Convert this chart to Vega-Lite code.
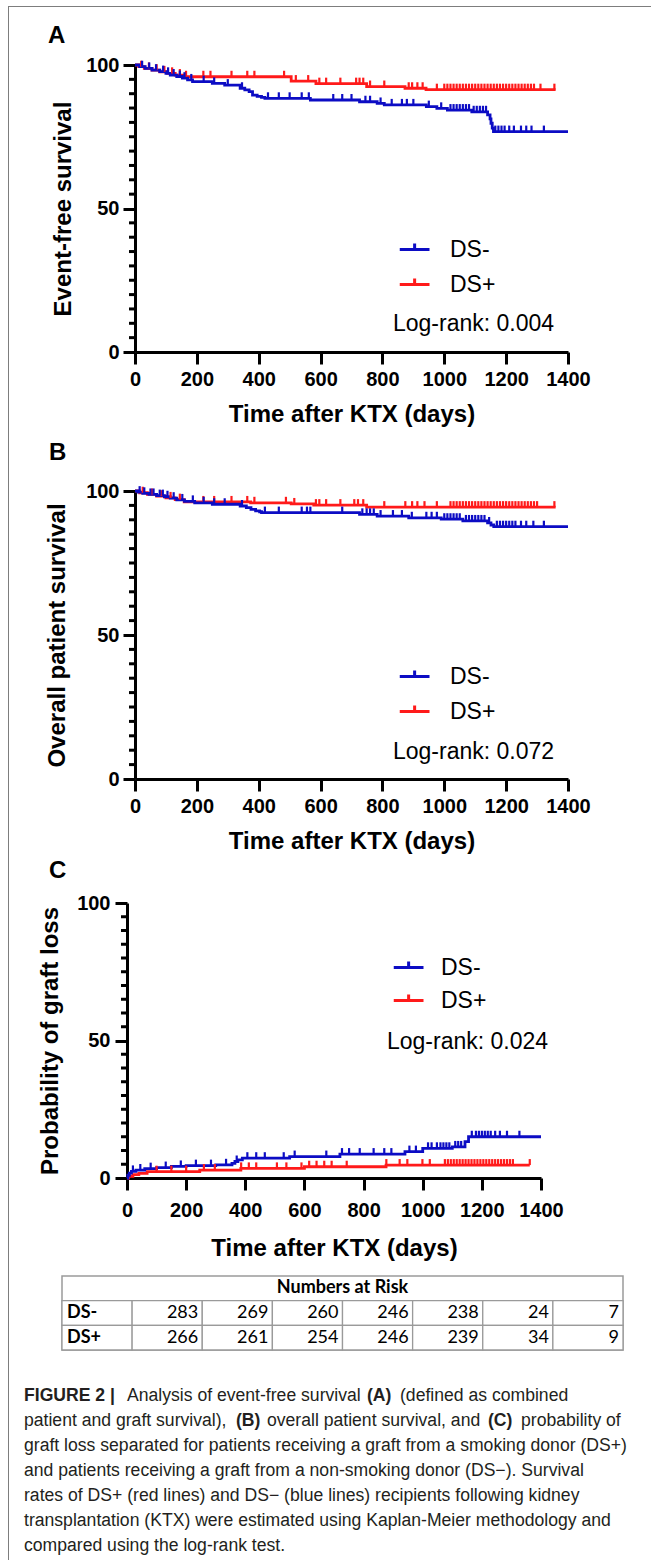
{
"$schema": "https://vega.github.io/schema/vega-lite/v6.json",
"background": "white",
"padding": {"left": 8, "top": 6, "right": 0, "bottom": 0},
"config": {
  "view": {"stroke": null},
  "font": "Liberation Sans",
  "axis": {"domainColor": "black", "domainWidth": 3, "tickColor": "black", "tickWidth": 3, "labelColor": "black", "labelFont": "Liberation Sans", "labelFontSize": 20, "labelFontWeight": "bold", "titleColor": "black", "titleFont": "Liberation Sans", "titleFontSize": 24, "titleFontWeight": "bold", "grid": false, "labelOverlap": false, "labelFlush": false}
},
"datasets": {
"minor": [{"m":5},{"m":10},{"m":15},{"m":20},{"m":25},{"m":30},{"m":35},{"m":40},{"m":45},{"m":55},{"m":60},{"m":65},{"m":70},{"m":75},{"m":80},{"m":85},{"m":90},{"m":95}],
"A": [
{"g":"DS+","k":"s","t":0,"v":100},{"g":"DS+","k":"s","t":12,"v":99.4},{"g":"DS+","k":"s","t":30,"v":98.8},{"g":"DS+","k":"s","t":55,"v":98.2},{"g":"DS+","k":"s","t":80,"v":97.6},{"g":"DS+","k":"s","t":105,"v":97.1},{"g":"DS+","k":"s","t":130,"v":96.5},{"g":"DS+","k":"s","t":155,"v":95.9},{"g":"DS+","k":"s","t":505,"v":94.4},{"g":"DS+","k":"s","t":585,"v":93.5},{"g":"DS+","k":"s","t":749,"v":92.5},{"g":"DS+","k":"s","t":873,"v":91.9},{"g":"DS+","k":"s","t":941,"v":91.4},{"g":"DS+","k":"s","t":1360,"v":91.4},
{"g":"DS+","k":"c","t":20,"v":99.4},{"g":"DS+","k":"c","t":45,"v":98.8},{"g":"DS+","k":"c","t":70,"v":98.2},{"g":"DS+","k":"c","t":95,"v":97.6},{"g":"DS+","k":"c","t":120,"v":97.1},{"g":"DS+","k":"c","t":145,"v":96.5},{"g":"DS+","k":"c","t":165,"v":95.9},{"g":"DS+","k":"c","t":221,"v":95.9},{"g":"DS+","k":"c","t":244,"v":95.9},{"g":"DS+","k":"c","t":312,"v":95.9},{"g":"DS+","k":"c","t":363,"v":95.9},{"g":"DS+","k":"c","t":386,"v":95.9},{"g":"DS+","k":"c","t":482,"v":95.9},{"g":"DS+","k":"c","t":520,"v":94.4},{"g":"DS+","k":"c","t":560,"v":94.4},{"g":"DS+","k":"c","t":596,"v":93.5},{"g":"DS+","k":"c","t":618,"v":93.5},{"g":"DS+","k":"c","t":664,"v":93.5},{"g":"DS+","k":"c","t":715,"v":93.5},{"g":"DS+","k":"c","t":726,"v":93.5},{"g":"DS+","k":"c","t":738,"v":93.5},{"g":"DS+","k":"c","t":760,"v":92.5},{"g":"DS+","k":"c","t":806,"v":92.5},{"g":"DS+","k":"c","t":885,"v":91.9},{"g":"DS+","k":"c","t":896,"v":91.9},{"g":"DS+","k":"c","t":913,"v":91.9},{"g":"DS+","k":"c","t":930,"v":91.9},{"g":"DS+","k":"c","t":976,"v":91.4},
{"g":"DS+","k":"c","t":1000,"v":91.4},{"g":"DS+","k":"c","t":1010,"v":91.4},{"g":"DS+","k":"c","t":1020,"v":91.4},{"g":"DS+","k":"c","t":1030,"v":91.4},{"g":"DS+","k":"c","t":1040,"v":91.4},{"g":"DS+","k":"c","t":1050,"v":91.4},{"g":"DS+","k":"c","t":1060,"v":91.4},{"g":"DS+","k":"c","t":1070,"v":91.4},{"g":"DS+","k":"c","t":1080,"v":91.4},{"g":"DS+","k":"c","t":1090,"v":91.4},{"g":"DS+","k":"c","t":1100,"v":91.4},{"g":"DS+","k":"c","t":1110,"v":91.4},{"g":"DS+","k":"c","t":1120,"v":91.4},{"g":"DS+","k":"c","t":1130,"v":91.4},{"g":"DS+","k":"c","t":1140,"v":91.4},{"g":"DS+","k":"c","t":1150,"v":91.4},{"g":"DS+","k":"c","t":1160,"v":91.4},{"g":"DS+","k":"c","t":1170,"v":91.4},{"g":"DS+","k":"c","t":1180,"v":91.4},{"g":"DS+","k":"c","t":1190,"v":91.4},{"g":"DS+","k":"c","t":1200,"v":91.4},{"g":"DS+","k":"c","t":1210,"v":91.4},{"g":"DS+","k":"c","t":1220,"v":91.4},{"g":"DS+","k":"c","t":1230,"v":91.4},{"g":"DS+","k":"c","t":1240,"v":91.4},{"g":"DS+","k":"c","t":1250,"v":91.4},{"g":"DS+","k":"c","t":1260,"v":91.4},{"g":"DS+","k":"c","t":1270,"v":91.4},{"g":"DS+","k":"c","t":1280,"v":91.4},{"g":"DS+","k":"c","t":1290,"v":91.4},{"g":"DS+","k":"c","t":1311,"v":91.4},{"g":"DS+","k":"c","t":1356,"v":91.4},
{"g":"DS-","k":"s","t":0,"v":100},{"g":"DS-","k":"s","t":15,"v":99.4},{"g":"DS-","k":"s","t":33,"v":98.8},{"g":"DS-","k":"s","t":55,"v":98.2},{"g":"DS-","k":"s","t":80,"v":97.7},{"g":"DS-","k":"s","t":100,"v":97.1},{"g":"DS-","k":"s","t":114,"v":96.5},{"g":"DS-","k":"s","t":135,"v":96.0},{"g":"DS-","k":"s","t":153,"v":95.4},{"g":"DS-","k":"s","t":170,"v":94.8},{"g":"DS-","k":"s","t":186,"v":94.2},{"g":"DS-","k":"s","t":250,"v":93.6},{"g":"DS-","k":"s","t":290,"v":93.0},{"g":"DS-","k":"s","t":340,"v":91.9},{"g":"DS-","k":"s","t":355,"v":91.3},{"g":"DS-","k":"s","t":369,"v":90.7},{"g":"DS-","k":"s","t":380,"v":89.5},{"g":"DS-","k":"s","t":395,"v":89.1},{"g":"DS-","k":"s","t":409,"v":88.7},{"g":"DS-","k":"s","t":420,"v":88.4},{"g":"DS-","k":"s","t":567,"v":87.8},{"g":"DS-","k":"s","t":726,"v":87.2},{"g":"DS-","k":"s","t":783,"v":86.6},{"g":"DS-","k":"s","t":806,"v":86.1},{"g":"DS-","k":"s","t":942,"v":85.5},{"g":"DS-","k":"s","t":976,"v":84.9},{"g":"DS-","k":"s","t":1010,"v":84.3},{"g":"DS-","k":"s","t":1089,"v":83.7},{"g":"DS-","k":"s","t":1140,"v":82.6},{"g":"DS-","k":"s","t":1148,"v":81.2},{"g":"DS-","k":"s","t":1151,"v":79.7},{"g":"DS-","k":"s","t":1155,"v":78.0},{"g":"DS-","k":"s","t":1159,"v":76.8},{"g":"DS-","k":"s","t":1400,"v":76.8},
{"g":"DS-","k":"c","t":23,"v":99.4},{"g":"DS-","k":"c","t":46,"v":98.8},{"g":"DS-","k":"c","t":68,"v":98.2},{"g":"DS-","k":"c","t":91,"v":97.7},{"g":"DS-","k":"c","t":107,"v":97.1},{"g":"DS-","k":"c","t":125,"v":96.5},{"g":"DS-","k":"c","t":145,"v":96.0},{"g":"DS-","k":"c","t":160,"v":95.4},{"g":"DS-","k":"c","t":182,"v":94.8},{"g":"DS-","k":"c","t":222,"v":94.2},{"g":"DS-","k":"c","t":256,"v":93.6},{"g":"DS-","k":"c","t":300,"v":93.0},{"g":"DS-","k":"c","t":346,"v":91.9},{"g":"DS-","k":"c","t":430,"v":88.4},{"g":"DS-","k":"c","t":465,"v":88.4},{"g":"DS-","k":"c","t":500,"v":88.4},{"g":"DS-","k":"c","t":539,"v":88.4},{"g":"DS-","k":"c","t":562,"v":88.4},{"g":"DS-","k":"c","t":641,"v":87.8},{"g":"DS-","k":"c","t":670,"v":87.8},{"g":"DS-","k":"c","t":700,"v":87.8},{"g":"DS-","k":"c","t":745,"v":87.2},{"g":"DS-","k":"c","t":760,"v":87.2},{"g":"DS-","k":"c","t":794,"v":86.6},{"g":"DS-","k":"c","t":830,"v":86.1},{"g":"DS-","k":"c","t":863,"v":86.1},{"g":"DS-","k":"c","t":879,"v":86.1},{"g":"DS-","k":"c","t":900,"v":86.1},{"g":"DS-","k":"c","t":950,"v":85.5},{"g":"DS-","k":"c","t":990,"v":84.9},{"g":"DS-","k":"c","t":1020,"v":84.3},{"g":"DS-","k":"c","t":1030,"v":84.3},{"g":"DS-","k":"c","t":1040,"v":84.3},{"g":"DS-","k":"c","t":1050,"v":84.3},{"g":"DS-","k":"c","t":1060,"v":84.3},{"g":"DS-","k":"c","t":1070,"v":84.3},{"g":"DS-","k":"c","t":1080,"v":84.3},{"g":"DS-","k":"c","t":1095,"v":83.7},{"g":"DS-","k":"c","t":1105,"v":83.7},{"g":"DS-","k":"c","t":1115,"v":83.7},{"g":"DS-","k":"c","t":1125,"v":83.7},{"g":"DS-","k":"c","t":1135,"v":83.7},{"g":"DS-","k":"c","t":1165,"v":76.8},{"g":"DS-","k":"c","t":1175,"v":76.8},{"g":"DS-","k":"c","t":1185,"v":76.8},{"g":"DS-","k":"c","t":1195,"v":76.8},{"g":"DS-","k":"c","t":1210,"v":76.8},{"g":"DS-","k":"c","t":1225,"v":76.8},{"g":"DS-","k":"c","t":1248,"v":76.8},{"g":"DS-","k":"c","t":1265,"v":76.8},{"g":"DS-","k":"c","t":1282,"v":76.8},{"g":"DS-","k":"c","t":1322,"v":76.8}
],
"B": [
{"g":"DS+","k":"s","t":0,"v":100},{"g":"DS+","k":"s","t":15,"v":99.4},{"g":"DS+","k":"s","t":40,"v":98.8},{"g":"DS+","k":"s","t":70,"v":98.2},{"g":"DS+","k":"s","t":100,"v":97.6},{"g":"DS+","k":"s","t":130,"v":97.0},{"g":"DS+","k":"s","t":159,"v":96.2},{"g":"DS+","k":"s","t":374,"v":95.9},{"g":"DS+","k":"s","t":505,"v":95.5},{"g":"DS+","k":"s","t":578,"v":95.1},{"g":"DS+","k":"s","t":749,"v":94.4},{"g":"DS+","k":"s","t":1360,"v":94.4},
{"g":"DS+","k":"c","t":25,"v":99.4},{"g":"DS+","k":"c","t":55,"v":98.8},{"g":"DS+","k":"c","t":85,"v":98.2},{"g":"DS+","k":"c","t":115,"v":97.6},{"g":"DS+","k":"c","t":145,"v":97.0},{"g":"DS+","k":"c","t":221,"v":96.2},{"g":"DS+","k":"c","t":256,"v":96.2},{"g":"DS+","k":"c","t":312,"v":96.2},{"g":"DS+","k":"c","t":363,"v":96.2},{"g":"DS+","k":"c","t":386,"v":95.9},{"g":"DS+","k":"c","t":488,"v":95.9},{"g":"DS+","k":"c","t":515,"v":95.5},{"g":"DS+","k":"c","t":585,"v":95.1},{"g":"DS+","k":"c","t":596,"v":95.1},{"g":"DS+","k":"c","t":618,"v":95.1},{"g":"DS+","k":"c","t":664,"v":95.1},{"g":"DS+","k":"c","t":709,"v":95.1},{"g":"DS+","k":"c","t":721,"v":95.1},{"g":"DS+","k":"c","t":738,"v":95.1},{"g":"DS+","k":"c","t":806,"v":94.4},{"g":"DS+","k":"c","t":874,"v":94.4},{"g":"DS+","k":"c","t":896,"v":94.4},{"g":"DS+","k":"c","t":913,"v":94.4},{"g":"DS+","k":"c","t":936,"v":94.4},{"g":"DS+","k":"c","t":976,"v":94.4},
{"g":"DS+","k":"c","t":1020,"v":94.4},{"g":"DS+","k":"c","t":1030,"v":94.4},{"g":"DS+","k":"c","t":1040,"v":94.4},{"g":"DS+","k":"c","t":1050,"v":94.4},{"g":"DS+","k":"c","t":1060,"v":94.4},{"g":"DS+","k":"c","t":1070,"v":94.4},{"g":"DS+","k":"c","t":1080,"v":94.4},{"g":"DS+","k":"c","t":1090,"v":94.4},{"g":"DS+","k":"c","t":1100,"v":94.4},{"g":"DS+","k":"c","t":1110,"v":94.4},{"g":"DS+","k":"c","t":1120,"v":94.4},{"g":"DS+","k":"c","t":1130,"v":94.4},{"g":"DS+","k":"c","t":1140,"v":94.4},{"g":"DS+","k":"c","t":1150,"v":94.4},{"g":"DS+","k":"c","t":1160,"v":94.4},{"g":"DS+","k":"c","t":1170,"v":94.4},{"g":"DS+","k":"c","t":1180,"v":94.4},{"g":"DS+","k":"c","t":1190,"v":94.4},{"g":"DS+","k":"c","t":1200,"v":94.4},{"g":"DS+","k":"c","t":1210,"v":94.4},{"g":"DS+","k":"c","t":1220,"v":94.4},{"g":"DS+","k":"c","t":1230,"v":94.4},{"g":"DS+","k":"c","t":1240,"v":94.4},{"g":"DS+","k":"c","t":1250,"v":94.4},{"g":"DS+","k":"c","t":1260,"v":94.4},{"g":"DS+","k":"c","t":1270,"v":94.4},{"g":"DS+","k":"c","t":1280,"v":94.4},{"g":"DS+","k":"c","t":1290,"v":94.4},{"g":"DS+","k":"c","t":1300,"v":94.4},{"g":"DS+","k":"c","t":1356,"v":94.4},
{"g":"DS-","k":"s","t":0,"v":100},{"g":"DS-","k":"s","t":10,"v":99.6},{"g":"DS-","k":"s","t":25,"v":99.2},{"g":"DS-","k":"s","t":45,"v":98.8},{"g":"DS-","k":"s","t":70,"v":98.4},{"g":"DS-","k":"s","t":95,"v":98.0},{"g":"DS-","k":"s","t":114,"v":97.5},{"g":"DS-","k":"s","t":135,"v":96.9},{"g":"DS-","k":"s","t":160,"v":96.4},{"g":"DS-","k":"s","t":193,"v":95.9},{"g":"DS-","k":"s","t":250,"v":95.4},{"g":"DS-","k":"s","t":340,"v":94.8},{"g":"DS-","k":"s","t":360,"v":94.2},{"g":"DS-","k":"s","t":375,"v":93.6},{"g":"DS-","k":"s","t":390,"v":93.1},{"g":"DS-","k":"s","t":403,"v":92.8},{"g":"DS-","k":"s","t":409,"v":92.5},{"g":"DS-","k":"s","t":726,"v":91.9},{"g":"DS-","k":"s","t":783,"v":91.3},{"g":"DS-","k":"s","t":885,"v":90.7},{"g":"DS-","k":"s","t":990,"v":90.2},{"g":"DS-","k":"s","t":1060,"v":89.6},{"g":"DS-","k":"s","t":1140,"v":88.9},{"g":"DS-","k":"s","t":1151,"v":88.2},{"g":"DS-","k":"s","t":1160,"v":87.6},{"g":"DS-","k":"s","t":1400,"v":87.6},
{"g":"DS-","k":"c","t":15,"v":99.6},{"g":"DS-","k":"c","t":30,"v":99.2},{"g":"DS-","k":"c","t":50,"v":98.8},{"g":"DS-","k":"c","t":60,"v":98.8},{"g":"DS-","k":"c","t":80,"v":98.4},{"g":"DS-","k":"c","t":90,"v":98.4},{"g":"DS-","k":"c","t":105,"v":98.0},{"g":"DS-","k":"c","t":125,"v":97.5},{"g":"DS-","k":"c","t":153,"v":96.9},{"g":"DS-","k":"c","t":187,"v":96.4},{"g":"DS-","k":"c","t":222,"v":95.9},{"g":"DS-","k":"c","t":256,"v":95.4},{"g":"DS-","k":"c","t":290,"v":95.4},{"g":"DS-","k":"c","t":346,"v":94.8},{"g":"DS-","k":"c","t":420,"v":92.5},{"g":"DS-","k":"c","t":465,"v":92.5},{"g":"DS-","k":"c","t":539,"v":92.5},{"g":"DS-","k":"c","t":556,"v":92.5},{"g":"DS-","k":"c","t":567,"v":92.5},{"g":"DS-","k":"c","t":670,"v":92.5},{"g":"DS-","k":"c","t":735,"v":91.9},{"g":"DS-","k":"c","t":749,"v":91.9},{"g":"DS-","k":"c","t":760,"v":91.9},{"g":"DS-","k":"c","t":772,"v":91.9},{"g":"DS-","k":"c","t":794,"v":91.3},{"g":"DS-","k":"c","t":834,"v":91.3},{"g":"DS-","k":"c","t":863,"v":91.3},{"g":"DS-","k":"c","t":895,"v":90.7},{"g":"DS-","k":"c","t":942,"v":90.7},{"g":"DS-","k":"c","t":959,"v":90.7},{"g":"DS-","k":"c","t":976,"v":90.7},{"g":"DS-","k":"c","t":1000,"v":90.2},{"g":"DS-","k":"c","t":1010,"v":90.2},{"g":"DS-","k":"c","t":1020,"v":90.2},{"g":"DS-","k":"c","t":1030,"v":90.2},{"g":"DS-","k":"c","t":1040,"v":90.2},{"g":"DS-","k":"c","t":1050,"v":90.2},{"g":"DS-","k":"c","t":1070,"v":89.6},{"g":"DS-","k":"c","t":1080,"v":89.6},{"g":"DS-","k":"c","t":1090,"v":89.6},{"g":"DS-","k":"c","t":1100,"v":89.6},{"g":"DS-","k":"c","t":1110,"v":89.6},{"g":"DS-","k":"c","t":1120,"v":89.6},{"g":"DS-","k":"c","t":1130,"v":89.6},{"g":"DS-","k":"c","t":1145,"v":88.9},{"g":"DS-","k":"c","t":1170,"v":87.6},{"g":"DS-","k":"c","t":1180,"v":87.6},{"g":"DS-","k":"c","t":1190,"v":87.6},{"g":"DS-","k":"c","t":1200,"v":87.6},{"g":"DS-","k":"c","t":1210,"v":87.6},{"g":"DS-","k":"c","t":1220,"v":87.6},{"g":"DS-","k":"c","t":1230,"v":87.6},{"g":"DS-","k":"c","t":1248,"v":87.6},{"g":"DS-","k":"c","t":1265,"v":87.6},{"g":"DS-","k":"c","t":1288,"v":87.6},{"g":"DS-","k":"c","t":1322,"v":87.6}
],
"C": [
{"g":"DS+","k":"s","t":0,"v":0},{"g":"DS+","k":"s","t":5,"v":0.6},{"g":"DS+","k":"s","t":20,"v":1.2},{"g":"DS+","k":"s","t":40,"v":1.7},{"g":"DS+","k":"s","t":68,"v":2.3},{"g":"DS+","k":"s","t":246,"v":2.9},{"g":"DS+","k":"s","t":385,"v":3.5},{"g":"DS+","k":"s","t":600,"v":4.1},{"g":"DS+","k":"s","t":876,"v":4.7},{"g":"DS+","k":"s","t":1362,"v":4.7},
{"g":"DS+","k":"c","t":100,"v":2.3},{"g":"DS+","k":"c","t":150,"v":2.3},{"g":"DS+","k":"c","t":200,"v":2.3},{"g":"DS+","k":"c","t":260,"v":2.9},{"g":"DS+","k":"c","t":297,"v":2.9},{"g":"DS+","k":"c","t":386,"v":3.5},{"g":"DS+","k":"c","t":412,"v":3.5},{"g":"DS+","k":"c","t":437,"v":3.5},{"g":"DS+","k":"c","t":507,"v":3.5},{"g":"DS+","k":"c","t":539,"v":3.5},{"g":"DS+","k":"c","t":590,"v":3.5},{"g":"DS+","k":"c","t":616,"v":4.1},{"g":"DS+","k":"c","t":641,"v":4.1},{"g":"DS+","k":"c","t":667,"v":4.1},{"g":"DS+","k":"c","t":692,"v":4.1},{"g":"DS+","k":"c","t":743,"v":4.1},{"g":"DS+","k":"c","t":877,"v":4.7},{"g":"DS+","k":"c","t":922,"v":4.7},{"g":"DS+","k":"c","t":948,"v":4.7},{"g":"DS+","k":"c","t":999,"v":4.7},{"g":"DS+","k":"c","t":1024,"v":4.7},
{"g":"DS+","k":"c","t":1075,"v":4.7},{"g":"DS+","k":"c","t":1085,"v":4.7},{"g":"DS+","k":"c","t":1095,"v":4.7},{"g":"DS+","k":"c","t":1105,"v":4.7},{"g":"DS+","k":"c","t":1115,"v":4.7},{"g":"DS+","k":"c","t":1125,"v":4.7},{"g":"DS+","k":"c","t":1135,"v":4.7},{"g":"DS+","k":"c","t":1145,"v":4.7},{"g":"DS+","k":"c","t":1155,"v":4.7},{"g":"DS+","k":"c","t":1165,"v":4.7},{"g":"DS+","k":"c","t":1175,"v":4.7},{"g":"DS+","k":"c","t":1185,"v":4.7},{"g":"DS+","k":"c","t":1195,"v":4.7},{"g":"DS+","k":"c","t":1205,"v":4.7},{"g":"DS+","k":"c","t":1215,"v":4.7},{"g":"DS+","k":"c","t":1225,"v":4.7},{"g":"DS+","k":"c","t":1235,"v":4.7},{"g":"DS+","k":"c","t":1245,"v":4.7},{"g":"DS+","k":"c","t":1255,"v":4.7},{"g":"DS+","k":"c","t":1265,"v":4.7},{"g":"DS+","k":"c","t":1275,"v":4.7},{"g":"DS+","k":"c","t":1285,"v":4.7},{"g":"DS+","k":"c","t":1295,"v":4.7},{"g":"DS+","k":"c","t":1305,"v":4.7},{"g":"DS+","k":"c","t":1362,"v":4.7},
{"g":"DS-","k":"s","t":0,"v":0},{"g":"DS-","k":"s","t":3,"v":1.0},{"g":"DS-","k":"s","t":8,"v":1.8},{"g":"DS-","k":"s","t":15,"v":2.4},{"g":"DS-","k":"s","t":30,"v":2.9},{"g":"DS-","k":"s","t":60,"v":3.4},{"g":"DS-","k":"s","t":100,"v":3.8},{"g":"DS-","k":"s","t":150,"v":4.2},{"g":"DS-","k":"s","t":200,"v":4.5},{"g":"DS-","k":"s","t":300,"v":4.8},{"g":"DS-","k":"s","t":355,"v":5.3},{"g":"DS-","k":"s","t":365,"v":6.0},{"g":"DS-","k":"s","t":375,"v":6.6},{"g":"DS-","k":"s","t":390,"v":7.2},{"g":"DS-","k":"s","t":550,"v":7.8},{"g":"DS-","k":"s","t":720,"v":8.7},{"g":"DS-","k":"s","t":940,"v":9.6},{"g":"DS-","k":"s","t":1000,"v":10.8},{"g":"DS-","k":"s","t":1100,"v":11.3},{"g":"DS-","k":"s","t":1143,"v":13.2},{"g":"DS-","k":"s","t":1155,"v":15.0},{"g":"DS-","k":"s","t":1400,"v":15.0},
{"g":"DS-","k":"c","t":20,"v":2.4},{"g":"DS-","k":"c","t":45,"v":2.9},{"g":"DS-","k":"c","t":80,"v":3.4},{"g":"DS-","k":"c","t":131,"v":3.8},{"g":"DS-","k":"c","t":182,"v":4.2},{"g":"DS-","k":"c","t":233,"v":4.5},{"g":"DS-","k":"c","t":284,"v":4.5},{"g":"DS-","k":"c","t":335,"v":4.8},{"g":"DS-","k":"c","t":371,"v":6.0},{"g":"DS-","k":"c","t":407,"v":7.2},{"g":"DS-","k":"c","t":437,"v":7.2},{"g":"DS-","k":"c","t":466,"v":7.2},{"g":"DS-","k":"c","t":530,"v":7.2},{"g":"DS-","k":"c","t":567,"v":7.8},{"g":"DS-","k":"c","t":674,"v":7.8},{"g":"DS-","k":"c","t":727,"v":8.7},{"g":"DS-","k":"c","t":751,"v":8.7},{"g":"DS-","k":"c","t":787,"v":8.7},{"g":"DS-","k":"c","t":834,"v":8.7},{"g":"DS-","k":"c","t":870,"v":8.7},{"g":"DS-","k":"c","t":894,"v":8.7},{"g":"DS-","k":"c","t":955,"v":9.6},{"g":"DS-","k":"c","t":977,"v":9.6},{"g":"DS-","k":"c","t":1018,"v":10.8},{"g":"DS-","k":"c","t":1030,"v":10.8},{"g":"DS-","k":"c","t":1048,"v":10.8},{"g":"DS-","k":"c","t":1060,"v":10.8},{"g":"DS-","k":"c","t":1070,"v":10.8},{"g":"DS-","k":"c","t":1080,"v":10.8},{"g":"DS-","k":"c","t":1090,"v":10.8},{"g":"DS-","k":"c","t":1110,"v":11.3},{"g":"DS-","k":"c","t":1120,"v":11.3},{"g":"DS-","k":"c","t":1130,"v":11.3},{"g":"DS-","k":"c","t":1166,"v":15.0},{"g":"DS-","k":"c","t":1180,"v":15.0},{"g":"DS-","k":"c","t":1190,"v":15.0},{"g":"DS-","k":"c","t":1200,"v":15.0},{"g":"DS-","k":"c","t":1210,"v":15.0},{"g":"DS-","k":"c","t":1220,"v":15.0},{"g":"DS-","k":"c","t":1230,"v":15.0},{"g":"DS-","k":"c","t":1245,"v":15.0},{"g":"DS-","k":"c","t":1261,"v":15.0},{"g":"DS-","k":"c","t":1285,"v":15.0},{"g":"DS-","k":"c","t":1327,"v":15.0}
],
"table": [
{"row":"hdr","col":"c4","text":"Numbers at Risk"},
{"row":"DS-","col":"c0","text":"DS-"},{"row":"DS-","col":"c1","text":"283"},{"row":"DS-","col":"c2","text":"269"},{"row":"DS-","col":"c3","text":"260"},{"row":"DS-","col":"c4","text":"246"},{"row":"DS-","col":"c5","text":"238"},{"row":"DS-","col":"c6","text":"24"},{"row":"DS-","col":"c7","text":"7"},
{"row":"DS+","col":"c0","text":"DS+"},{"row":"DS+","col":"c1","text":"266"},{"row":"DS+","col":"c2","text":"261"},{"row":"DS+","col":"c3","text":"254"},{"row":"DS+","col":"c4","text":"246"},{"row":"DS+","col":"c5","text":"239"},{"row":"DS+","col":"c6","text":"34"},{"row":"DS+","col":"c7","text":"9"}
],
"caption": [
{"line":1,"seg":"1a","text":"FIGURE 2 |"},
{"line":1,"seg":"1b","text":"Analysis of event-free survival"},
{"line":1,"seg":"1c","text":"(A)"},
{"line":1,"seg":"1d","text":"(defined as combined"},
{"line":2,"seg":"p","text":"patient and graft survival),"},
{"line":2,"seg":"2b","text":"(B)"},
{"line":2,"seg":"2c","text":"overall patient survival, and"},
{"line":2,"seg":"2d","text":"(C)"},
{"line":2,"seg":"2e","text":"probability of"},
{"line":3,"seg":"p","text":"graft loss separated for patients receiving a graft from a smoking donor (DS+)"},
{"line":4,"seg":"p","text":"and patients receiving a graft from a non-smoking donor (DS\u2212). Survival"},
{"line":5,"seg":"p","text":"rates of DS+ (red lines) and DS\u2212 (blue lines) recipients following kidney"},
{"line":6,"seg":"p","text":"transplantation (KTX) were estimated using Kaplan-Meier methodology and"},
{"line":7,"seg":"p","text":"compared using the log-rank test."}
]
},
"spacing": 0,
"resolve": {"scale": {"color": "independent", "x": "independent", "y": "independent"}, "legend": {"color": "independent"}},
"vconcat": [
 {"width": 643, "height": 1, "view": {"fill": "#7d7d7d", "stroke": null}, "data": {"values": []}, "mark": {"type": "point", "opacity": 0}},
 {"spacing": 15,
  "resolve": {"scale": {"color": "independent", "x": "independent", "y": "independent"}, "legend": {"color": "independent"}},
  "hconcat": [
   {"width": 1, "height": 1553, "view": {"fill": "#7d7d7d", "stroke": null}, "data": {"values": []}, "mark": {"type": "point", "opacity": 0}},
   {"spacing": 4,
    "resolve": {"scale": {"color": "independent", "x": "independent", "y": "independent"}, "legend": {"color": "independent"}},
    "vconcat": [
     {"width": 1, "height": 13, "data": {"values": []}, "mark": {"type": "point", "opacity": 0}},
     {"bounds": "flush", "spacing": 110,
      "resolve": {"scale": {"color": "independent", "x": "independent", "y": "independent"}, "legend": {"color": "independent"}},
      "hconcat": [
       {"width": 1, "height": 372, "data": {"values": []}, "mark": {"type": "point", "opacity": 0}},
       {"title": {"text": "A", "anchor": "start", "frame": "group", "dx": -87, "offset": -12, "fontSize": 24, "fontWeight": "bold", "font": "Liberation Sans", "baseline": "alphabetic", "color": "black"},
        "width": 433, "height": 287,
        "layer": [
         {"data": {"name": "A"}, "transform": [{"filter": "datum.k === 's'"}],
          "mark": {"type": "line", "interpolate": "step-after", "strokeWidth": 2.8},
          "encoding": {
           "x": {"field": "t", "type": "quantitative", "scale": {"domain": [0, 1400], "nice": false, "zero": false}, "axis": {"values": [0,200,400,600,800,1000,1200,1400], "format": "d", "tickSize": 12, "labelPadding": 5, "titlePadding": 13, "title": "Time after KTX (days)"}},
           "y": {"field": "v", "type": "quantitative", "scale": {"domain": [0, 100], "nice": false}, "axis": {"values": [0, 50, 100], "tickSize": 12, "labelPadding": 4, "title": "Event-free survival", "titlePadding": 10}},
           "color": {"field": "g", "type": "nominal", "scale": {"domain": ["DS-", "DS+"], "range": ["#0c0cc4", "#ff1a1a"]},
             "legend": {"orient": "none", "legendX": 258, "legendY": 165.5, "direction": "vertical", "title": "Log-rank: 0.004", "titleOrient": "bottom", "titleAnchor": "start", "titleFontSize": 23, "titleFontWeight": "normal", "titleFont": "Liberation Sans", "titleColor": "black", "titlePadding": 16, "titleLimit": 400, "labelFontSize": 23, "labelFont": "Liberation Sans", "labelColor": "black", "labelOffset": 19, "symbolType": "M-0.7,0H1M0.15,0V-0.35", "symbolSize": 1225, "symbolStrokeWidth": 3, "symbolFillColor": "transparent", "rowPadding": 4, "padding": 0}}
          }},
         {"data": {"name": "A"}, "transform": [{"filter": "datum.k === 'c'"}],
          "mark": {"type": "rule", "strokeWidth": 2.2, "y2Offset": -6},
          "encoding": {
           "x": {"field": "t", "type": "quantitative"},
           "y": {"field": "v", "type": "quantitative"},
           "y2": {"field": "v"},
           "color": {"field": "g", "type": "nominal"}
          }},
         {"data": {"name": "minor"},
          "mark": {"type": "tick", "orient": "horizontal", "color": "black", "size": 6, "thickness": 3, "xOffset": -3, "opacity": 1},
          "encoding": {
           "x": {"datum": 0, "type": "quantitative"},
           "y": {"field": "m", "type": "quantitative"}
          }}
        ]}
      ]},
     {"bounds": "flush", "spacing": 110,
      "resolve": {"scale": {"color": "independent", "x": "independent", "y": "independent"}, "legend": {"color": "independent"}},
      "hconcat": [
       {"width": 1, "height": 364, "data": {"values": []}, "mark": {"type": "point", "opacity": 0}},
       {"title": {"text": "B", "anchor": "start", "frame": "group", "dx": -86, "offset": -3, "fontSize": 24, "fontWeight": "bold", "font": "Liberation Sans", "baseline": "alphabetic", "color": "black"},
        "width": 433, "height": 288,
        "layer": [
         {"data": {"name": "B"}, "transform": [{"filter": "datum.k === 's'"}],
          "mark": {"type": "line", "interpolate": "step-after", "strokeWidth": 2.8},
          "encoding": {
           "x": {"field": "t", "type": "quantitative", "scale": {"domain": [0, 1400], "nice": false, "zero": false}, "axis": {"values": [0,200,400,600,800,1000,1200,1400], "format": "d", "tickSize": 12, "labelPadding": 5, "titlePadding": 13, "title": "Time after KTX (days)"}},
           "y": {"field": "v", "type": "quantitative", "scale": {"domain": [0, 100], "nice": false}, "axis": {"values": [0, 50, 100], "tickSize": 12, "labelPadding": 4, "title": "Overall patient survival", "titlePadding": 16}},
           "color": {"field": "g", "type": "nominal", "scale": {"domain": ["DS-", "DS+"], "range": ["#0c0cc4", "#ff1a1a"]},
             "legend": {"orient": "none", "legendX": 258, "legendY": 166.5, "direction": "vertical", "title": "Log-rank: 0.072", "titleOrient": "bottom", "titleAnchor": "start", "titleFontSize": 23, "titleFontWeight": "normal", "titleFont": "Liberation Sans", "titleColor": "black", "titlePadding": 17, "titleLimit": 400, "labelFontSize": 23, "labelFont": "Liberation Sans", "labelColor": "black", "labelOffset": 19, "symbolType": "M-0.7,0H1M0.15,0V-0.35", "symbolSize": 1225, "symbolStrokeWidth": 3, "symbolFillColor": "transparent", "rowPadding": 4, "padding": 0}}
          }},
         {"data": {"name": "B"}, "transform": [{"filter": "datum.k === 'c'"}],
          "mark": {"type": "rule", "strokeWidth": 2.2, "y2Offset": -6},
          "encoding": {
           "x": {"field": "t", "type": "quantitative"},
           "y": {"field": "v", "type": "quantitative"},
           "y2": {"field": "v"},
           "color": {"field": "g", "type": "nominal"}
          }},
         {"data": {"name": "minor"},
          "mark": {"type": "tick", "orient": "horizontal", "color": "black", "size": 6, "thickness": 3, "xOffset": -3, "opacity": 1},
          "encoding": {
           "x": {"datum": 0, "type": "quantitative"},
           "y": {"field": "m", "type": "quantitative"}
          }}
        ]}
      ]},
     {"bounds": "flush", "spacing": 102,
      "resolve": {"scale": {"color": "independent", "x": "independent", "y": "independent"}, "legend": {"color": "independent"}},
      "hconcat": [
       {"width": 1, "height": 368, "data": {"values": []}, "mark": {"type": "point", "opacity": 0}},
       {"title": {"text": "C", "anchor": "start", "frame": "group", "dx": -78, "offset": -9, "fontSize": 24, "fontWeight": "bold", "font": "Liberation Sans", "baseline": "alphabetic", "color": "black"},
        "width": 414, "height": 275,
        "layer": [
         {"data": {"name": "C"}, "transform": [{"filter": "datum.k === 's'"}],
          "mark": {"type": "line", "interpolate": "step-after", "strokeWidth": 2.8},
          "encoding": {
           "x": {"field": "t", "type": "quantitative", "scale": {"domain": [0, 1400], "nice": false, "zero": false}, "axis": {"values": [0,200,400,600,800,1000,1200,1400], "format": "d", "tickSize": 12, "labelPadding": 10, "titlePadding": 16, "title": "Time after KTX (days)"}},
           "y": {"field": "v", "type": "quantitative", "scale": {"domain": [0, 100], "nice": false}, "axis": {"values": [0, 50, 100], "tickSize": 12, "labelPadding": 5, "title": "Probability of graft loss", "titlePadding": 14}},
           "color": {"field": "g", "type": "nominal", "scale": {"domain": ["DS-", "DS+"], "range": ["#0c0cc4", "#ff1a1a"]},
             "legend": {"orient": "none", "legendX": 260, "legendY": 45.5, "direction": "vertical", "title": "Log-rank: 0.024", "titleOrient": "bottom", "titleAnchor": "start", "titleFontSize": 23, "titleFontWeight": "normal", "titleFont": "Liberation Sans", "titleColor": "black", "titlePadding": 18, "titleLimit": 400, "labelFontSize": 23, "labelFont": "Liberation Sans", "labelColor": "black", "labelOffset": 16, "symbolType": "M-0.7,0H1M0.15,0V-0.35", "symbolSize": 1225, "symbolStrokeWidth": 3, "symbolFillColor": "transparent", "rowPadding": 2, "padding": 0}}
          }},
         {"data": {"name": "C"}, "transform": [{"filter": "datum.k === 'c'"}],
          "mark": {"type": "rule", "strokeWidth": 2.2, "y2Offset": -6},
          "encoding": {
           "x": {"field": "t", "type": "quantitative"},
           "y": {"field": "v", "type": "quantitative"},
           "y2": {"field": "v"},
           "color": {"field": "g", "type": "nominal"}
          }},
         {"data": {"name": "minor"},
          "mark": {"type": "tick", "orient": "horizontal", "color": "black", "size": 6, "thickness": 3, "xOffset": -3, "opacity": 1},
          "encoding": {
           "x": {"datum": 0, "type": "quantitative"},
           "y": {"field": "m", "type": "quantitative"}
          }}
        ]}
      ]},
     {"bounds": "flush", "spacing": 37,
      "hconcat": [
       {"width": 1, "height": 103, "data": {"values": []}, "mark": {"type": "point", "opacity": 0}},
       {"width": 561, "height": 74,
        "view": {"stroke": "#9a9a9a", "strokeWidth": 1.5},
        "data": {"name": "table"},
        "encoding": {
          "y": {"field": "row", "type": "nominal", "scale": {"domain": ["hdr", "DS-", "DS+"], "paddingInner": 0, "paddingOuter": 0}, "axis": null}
        },
        "layer": [
         {"transform": [{"filter": "datum.row !== 'hdr'"}],
          "mark": {"type": "rect", "fill": "white", "stroke": "#9a9a9a", "strokeWidth": 1.3},
          "encoding": {"x": {"field": "col", "type": "nominal", "scale": {"domain": ["c0","c1","c2","c3","c4","c5","c6","c7"], "paddingInner": 0, "paddingOuter": 0}, "axis": null}}},
         {"transform": [{"filter": "datum.row === 'hdr'"}],
          "mark": {"type": "text", "font": "Lato", "fontSize": 18, "fontWeight": "bold", "align": "center", "baseline": "middle", "color": "black"},
          "encoding": {"x": {"field": "col", "type": "nominal", "bandPosition": 0}, "text": {"field": "text"}}},
         {"transform": [{"filter": "datum.row !== 'hdr' && datum.col === 'c0'"}],
          "mark": {"type": "text", "font": "Lato", "fontSize": 18, "fontWeight": "bold", "align": "left", "baseline": "middle", "dx": 5, "color": "black"},
          "encoding": {"x": {"field": "col", "type": "nominal", "bandPosition": 0}, "text": {"field": "text"}}},
         {"transform": [{"filter": "datum.row !== 'hdr' && datum.col !== 'c0'"}],
          "mark": {"type": "text", "font": "Lato", "fontSize": 18, "align": "right", "baseline": "middle", "dx": -4, "color": "black"},
          "encoding": {"x": {"field": "col", "type": "nominal", "bandPosition": 1}, "text": {"field": "text"}}}
        ]}
      ]},
     {"width": 603, "height": 175,
      "data": {"name": "caption"},
      "encoding": {
        "x": {"datum": 0, "type": "quantitative", "scale": {"domain": [0, 1]}, "axis": null},
        "y": {"field": "line", "type": "ordinal", "scale": {"domain": [1,2,3,4,5,6,7]}, "axis": null},
        "text": {"field": "text"}
      },
      "layer": [
       {"transform": [{"filter": "datum.seg === 'p'"}], "mark": {"type": "text", "align": "left", "baseline": "middle", "font": "Liberation Sans", "fontSize": 17.6, "color": "#231f20"}},
       {"transform": [{"filter": "datum.seg === '1a'"}], "mark": {"type": "text", "align": "left", "baseline": "middle", "font": "Liberation Sans", "fontSize": 17.6, "fontWeight": "bold", "color": "#231f20"}},
       {"transform": [{"filter": "datum.seg === '1b'"}], "mark": {"type": "text", "align": "left", "baseline": "middle", "font": "Liberation Sans", "fontSize": 17.6, "dx": 103, "color": "#231f20"}},
       {"transform": [{"filter": "datum.seg === '1c'"}], "mark": {"type": "text", "align": "left", "baseline": "middle", "font": "Liberation Sans", "fontSize": 17.6, "fontWeight": "bold", "dx": 343, "color": "#231f20"}},
       {"transform": [{"filter": "datum.seg === '1d'"}], "mark": {"type": "text", "align": "left", "baseline": "middle", "font": "Liberation Sans", "fontSize": 17.6, "dx": 376, "color": "#231f20"}},
       {"transform": [{"filter": "datum.seg === '2b'"}], "mark": {"type": "text", "align": "left", "baseline": "middle", "font": "Liberation Sans", "fontSize": 17.6, "fontWeight": "bold", "dx": 212, "color": "#231f20"}},
       {"transform": [{"filter": "datum.seg === '2c'"}], "mark": {"type": "text", "align": "left", "baseline": "middle", "font": "Liberation Sans", "fontSize": 17.6, "dx": 243, "color": "#231f20"}},
       {"transform": [{"filter": "datum.seg === '2d'"}], "mark": {"type": "text", "align": "left", "baseline": "middle", "font": "Liberation Sans", "fontSize": 17.6, "fontWeight": "bold", "dx": 464, "color": "#231f20"}},
       {"transform": [{"filter": "datum.seg === '2e'"}], "mark": {"type": "text", "align": "left", "baseline": "middle", "font": "Liberation Sans", "fontSize": 17.6, "dx": 497, "color": "#231f20"}}
      ]}
    ]}
  ]}
]
}
